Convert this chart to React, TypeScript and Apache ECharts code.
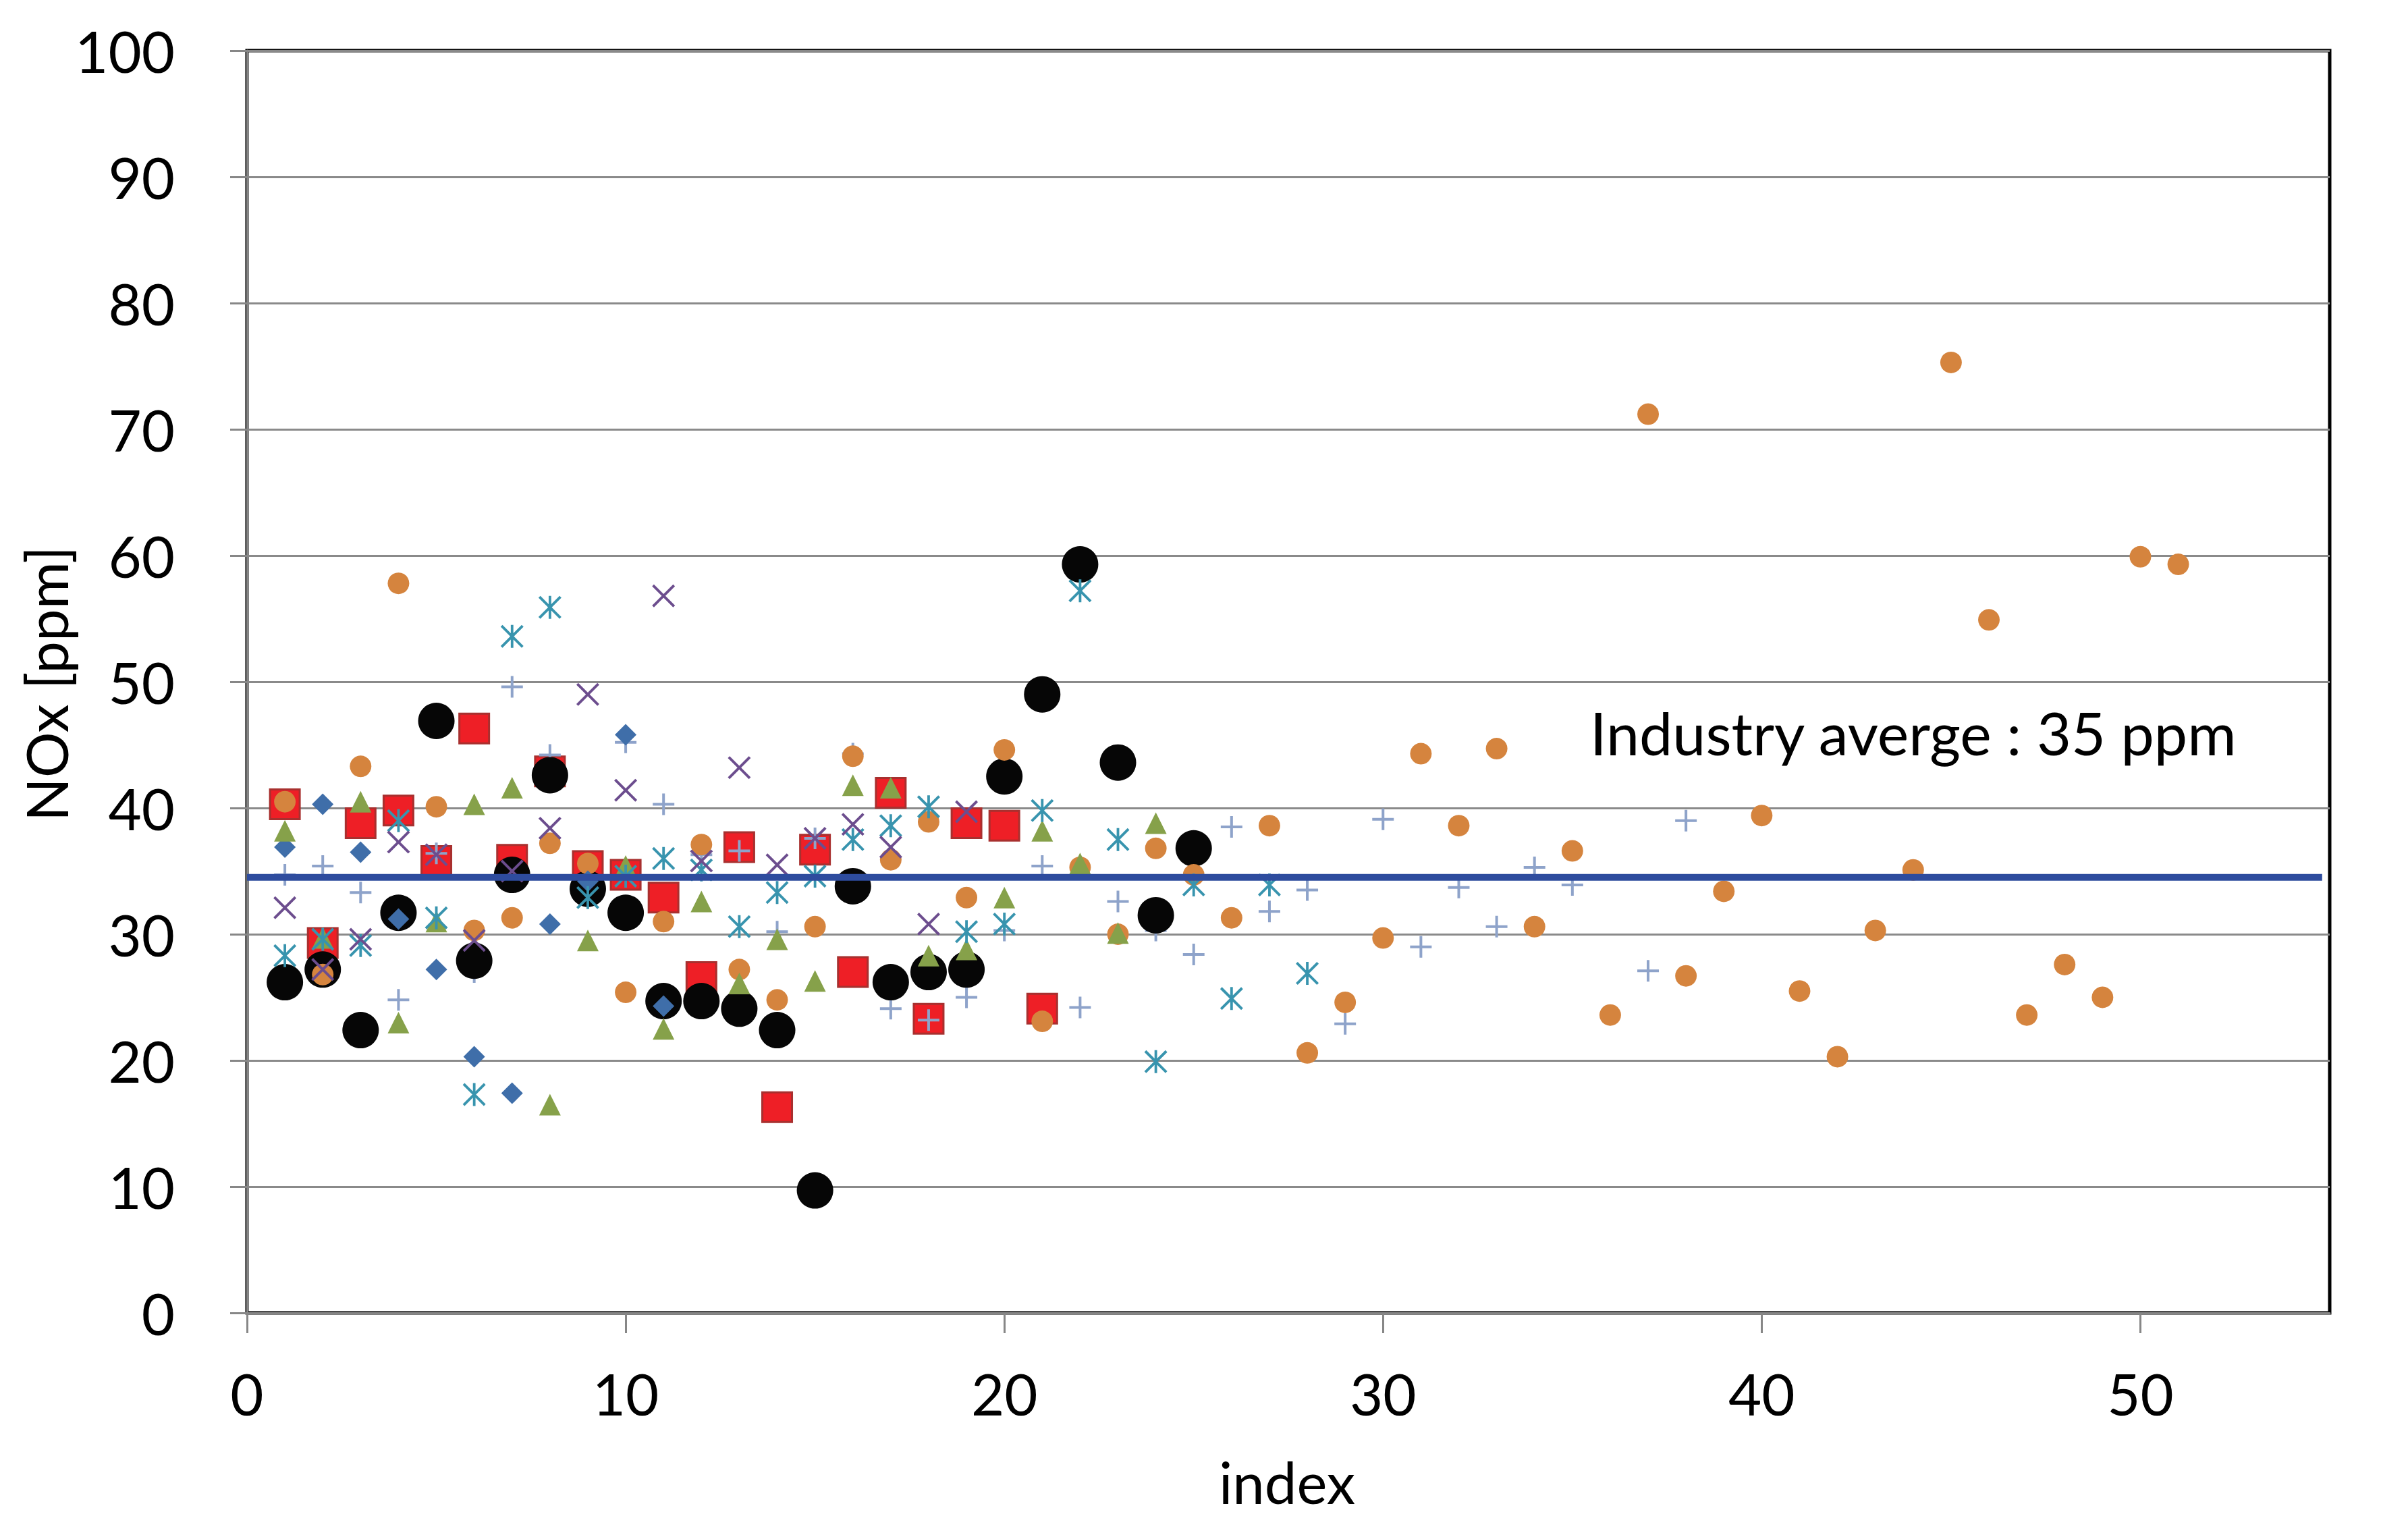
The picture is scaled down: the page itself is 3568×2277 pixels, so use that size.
import React, { useEffect, useRef } from "react";
import * as echarts from "echarts";

// values listed for index 1, 2, 3, ... (null = no point)
const diamondValues = [36.9, 40.3, 36.5, 31.2, 27.2, 20.3, 17.4, 30.8, 34.2, 45.8, 24.3];
const squareValues = [40.3, 29.3, 38.8, 39.8, 35.8, 46.3, 35.9, 42.9, 35.4, 34.7, 32.9, 26.6, 36.9, 16.3, 36.7, 27.0, 41.2, 23.3, 38.8, 38.6, 24.1];
const triangleValues = [38.2, 29.7, 40.5, 23.0, 31.0, 40.3, 41.6, 16.5, 29.5, 35.4, 22.5, 32.6, 26.1, 29.6, 26.3, 41.8, 41.6, 28.3, 28.8, 32.9, 38.2, 35.6, 30.1, 38.8];
const crossValues = [32.1, 27.2, 29.6, 37.3, 36.3, 29.5, 35.0, 38.4, 49.0, 41.4, 56.8, 35.8, 43.2, 35.5, 37.6, 38.7, 36.9, 30.8, 39.7];
const starValues = [28.3, 29.6, 29.1, 39.0, 31.3, 17.3, 53.6, 55.9, 32.9, 34.6, 36.0, 35.1, 30.6, 33.3, 34.6, 37.5, 38.6, 40.1, 30.2, 30.8, 39.8, 57.2, 37.5, 19.9, 33.9, 24.9, 33.9, 26.9];
const circleValues = [40.5, 26.8, 43.3, 57.8, 40.1, 30.3, 31.3, 37.2, 35.6, 25.4, 31.0, 37.1, 27.2, 24.8, 30.6, 44.1, 35.9, 38.9, 32.9, 44.6, 23.1, 35.3, 30.0, 36.8, 34.7, 31.3, 38.6, 20.6, 24.6, 29.7, 44.3, 38.6, 44.7, 30.6, 36.6, 23.6, 71.2, 26.7, 33.4, 39.4, 25.5, 20.3, 30.3, 35.1, 75.3, 54.9, 23.6, 27.6, 25.0, 59.9, 59.3];
const plusValues = [34.7, 35.4, 33.3, 24.8, 36.4, 27.0, 49.6, 44.2, 33.8, 45.2, 40.3, 36.3, 36.6, 30.2, 37.6, 44.3, 24.1, 23.2, 25.0, 30.3, 35.4, 24.2, 32.6, 30.3, 28.4, 38.5, 31.8, 33.5, 22.9, 39.1, 29.0, 33.7, 30.6, 35.3, 33.9, null, 27.1, 39.0];
const blackValues = [26.2, 27.2, 22.4, 31.7, 46.9, 27.9, 34.7, 42.6, 33.6, 31.7, 24.7, 24.7, 24.1, 22.4, 9.7, 33.8, 26.2, 27.0, 27.2, 42.5, 49.0, 59.3, 43.6, 31.5, 36.8];

const industryAverage = 34.5;
const averageLineStart = 0;
const averageLineEnd = 54.8;
const annotationText = "Industry averge : 35 ppm";

const xTickValues = [0, 10, 20, 30, 40, 50];
const yTickValues = [0, 10, 20, 30, 40, 50, 60, 70, 80, 90, 100];

const toPoints = (vals: (number | null)[]) =>
  vals
    .map((v, i) => (v == null ? null : [i + 1, v]))
    .filter((p) => p !== null) as number[][];

const PLUS = "path://M14,0H18V14H32V18H18V32H14V18H0V14H14Z";
const CROSS = "path://M0,2.6L2.6,0L32,29.4L29.4,32Z M29.4,0L32,2.6L2.6,32L0,29.4Z";
const STAR = "path://M0,2.6L2.6,0L32,29.4L29.4,32Z M29.4,0L32,2.6L2.6,32L0,29.4Z M14.2,0H17.8V32H14.2Z";

const FONT = "Lato, 'Open Sans', sans-serif";

export default function App() {
  const ref = useRef<HTMLDivElement>(null);
  useEffect(() => {
    if (!ref.current) return;
    const chart = echarts.init(ref.current, undefined, { renderer: "svg" });
    const scatter = (name: string, data: number[][], symbol: string, size: number | number[], color: string, extra: any = {}) => ({
      name,
      type: "scatter",
      data,
      symbol,
      symbolSize: size,
      itemStyle: { color, opacity: 1, ...(extra.itemStyle || {}) },
      emphasis: { disabled: true },
      z: 2,
    });
    chart.setOption({
      animation: false,
      backgroundColor: "#ffffff",
      textStyle: { fontFamily: FONT },
      grid: {
        left: 366,
        right: 116,
        top: 75,
        bottom: 332,
        show: true,
        borderColor: "#000000",
        borderWidth: 5,
        backgroundColor: "transparent",
      },
      xAxis: {
        type: "value",
        min: xTickValues[0],
        max: 55,
        interval: 10,
        axisLine: { show: true, onZero: false, lineStyle: { color: "#878787", width: 3 } },
        axisTick: { show: true, inside: false, length: 30, lineStyle: { color: "#878787", width: 3 } },
        splitLine: { show: false },
        axisLabel: {
          color: "#000",
          fontSize: 85,
          lineHeight: 85,
          fontFamily: FONT,
          margin: 76,
          showMaxLabel: false,
          formatter: (v: number) => (xTickValues.includes(v) ? String(v) : ""),
        },
      },
      yAxis: {
        type: "value",
        min: yTickValues[0],
        max: yTickValues[yTickValues.length - 1],
        interval: 10,
        axisLine: { show: true, lineStyle: { color: "#878787", width: 3 } },
        axisTick: { show: true, inside: false, length: 25, lineStyle: { color: "#878787", width: 3 } },
        splitLine: { show: true, lineStyle: { color: "#8a8a8a", width: 3 } },
        axisLabel: { color: "#000", fontSize: 85, fontFamily: FONT, margin: 107 },
      },
      series: [
        scatter("square", toPoints(squareValues), "rect", 44, "#EE1F26", {
          itemStyle: { borderColor: "#A8302F", borderWidth: 3 },
        }),
        scatter("plus", toPoints(plusValues), PLUS, 32, "#8EA3CA"),
        scatter("black", toPoints(blackValues), "circle", 54, "#060606"),
        scatter("circle", toPoints(circleValues), "circle", 32, "#D5843E"),
        scatter("diamond", toPoints(diamondValues), "diamond", 32, "#3F6EA9"),
        scatter("triangle", toPoints(triangleValues), "triangle", 32, "#86A14A"),
        scatter("star", toPoints(starValues), STAR, [34, 34], "#3894AE"),
        scatter("cross", toPoints(crossValues), CROSS, [34, 34], "#6C4D8E"),
        {
          name: "average",
          type: "line",
          data: [
            [averageLineStart, industryAverage],
            [averageLineEnd, industryAverage],
          ],
          showSymbol: false,
          symbol: "none",
          lineStyle: { color: "#2E4C9E", width: 10 },
          emphasis: { disabled: true },
          z: 3,
        },
      ],
      graphic: [
        {
          type: "text",
          x: 1907,
          y: 2195,
          style: {
            text: "index",
            font: `85px ${FONT}`,
            fill: "#000",
            textAlign: "center",
            textVerticalAlign: "middle",
          },
        },
        {
          type: "text",
          x: 68,
          y: 1013,
          rotation: Math.PI / 2,
          style: {
            text: "NOx [ppm]",
            font: `85px ${FONT}`,
            fill: "#000",
            textAlign: "center",
            textVerticalAlign: "middle",
          },
        },
        {
          type: "text",
          x: 2356,
          y: 1085,
          z: 10,
          style: {
            text: annotationText,
            font: `88px ${FONT}`,
            fill: "#000",
            textAlign: "left",
            textVerticalAlign: "middle",
          },
        },
      ],
    });
    return () => chart.dispose();
  }, []);
  return (
    <div
      ref={ref}
      style={{ position: "fixed", left: 0, top: 0, width: 3568, height: 2277 }}
    />
  );
}
